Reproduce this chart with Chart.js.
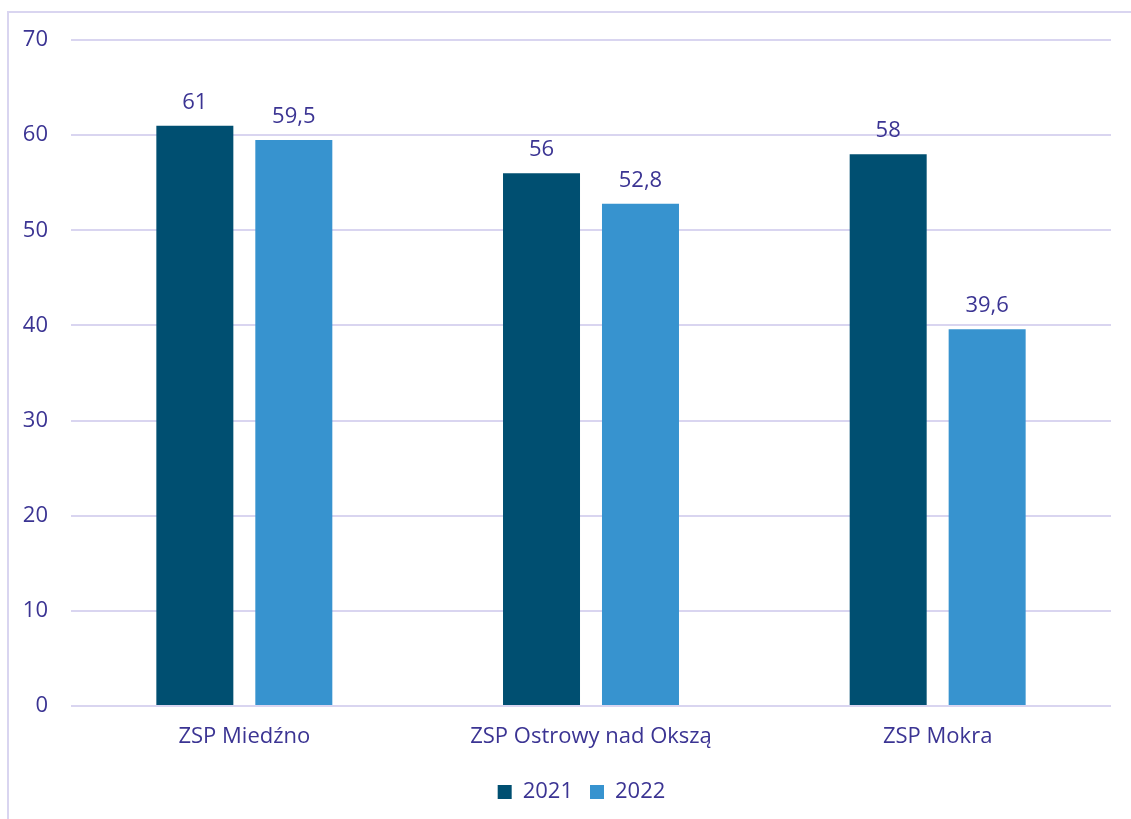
<!DOCTYPE html>
<html><head><meta charset="utf-8">
<script src="https://cdn.jsdelivr.net/npm/chart.js@4.4.0/dist/chart.umd.min.js"></script>
<style>
html,body{margin:0;padding:0;background:#fff;overflow:hidden}
#frame{position:absolute;left:7px;top:11px;width:1200px;height:900px;border-left:2px solid #d9d5f0;border-top:2px solid #d9d5f0}
#c{position:absolute;left:0;top:0}
</style></head>
<body>
<div id="frame"></div>
<canvas id="c" width="1131" height="819"></canvas>
<script>
const categories = ["ZSP Miedźno", "ZSP Ostrowy nad Okszą", "ZSP Mokra"];
const seriesNames = ["2021", "2022"];
const values2021 = [61, 56, 58];
const values2022 = [59.5, 52.8, 39.6];
const yTicks = [0, 10, 20, 30, 40, 50, 60, 70];

const textColor = "#3b3493";
const fontFamily = "'Open Sans', sans-serif";
const fontSize = 22;

const valueLabels = {
  id: "valueLabels",
  afterLayout(chart) {
    if (chart.legend) { chart.legend.left += 26; chart.legend.right += 26; }
  },
  afterDatasetsDraw(chart) {
    const ctx = chart.ctx;
    ctx.save();
    ctx.font = fontSize + "px " + fontFamily;
    ctx.fillStyle = textColor;
    ctx.textAlign = "center";
    ctx.textBaseline = "middle";
    chart.data.datasets.forEach((ds, i) => {
      chart.getDatasetMeta(i).data.forEach((bar, j) => {
        const txt = String(ds.data[j]).replace(".", ",");
        ctx.fillText(txt, bar.x, bar.y - 23);
      });
    });
    ctx.restore();
  }
};

new Chart(document.getElementById("c"), {
  type: "bar",
  data: {
    labels: categories,
    datasets: [
      { label: seriesNames[0], data: values2021, backgroundColor: "#004f71" },
      { label: seriesNames[1], data: values2022, backgroundColor: "#3793cf" }
    ]
  },
  options: {
    responsive: false,
    animation: false,
    devicePixelRatio: 1,
    categoryPercentage: 0.571,
    barPercentage: 0.778,
    layout: { padding: { left: 0, right: 20, top: 40, bottom: 6 } },
    plugins: {
      legend: {
        position: "bottom",
        labels: { color: textColor, font: { family: fontFamily, size: fontSize }, boxWidth: 14, boxHeight: 14, padding: 17 }
      },
      tooltip: { enabled: false }
    },
    scales: {
      x: {
        grid: { display: false },
        border: { display: false },
        ticks: { color: textColor, font: { family: fontFamily, size: fontSize }, padding: 10 },
        afterFit(s) { s.height = 58; }
      },
      y: {
        min: 0, max: 70,
        afterBuildTicks(s) { s.ticks = yTicks.map(v => ({ value: v })); },
        grid: { color: "#d9d5f0", lineWidth: 2, drawTicks: false },
        border: { display: false },
        ticks: { color: textColor, font: { family: fontFamily, size: fontSize }, padding: 23 },
        afterFit(s) { s.width = 71; }
      }
    }
  },
  plugins: [valueLabels]
});
</script>
</body></html>
